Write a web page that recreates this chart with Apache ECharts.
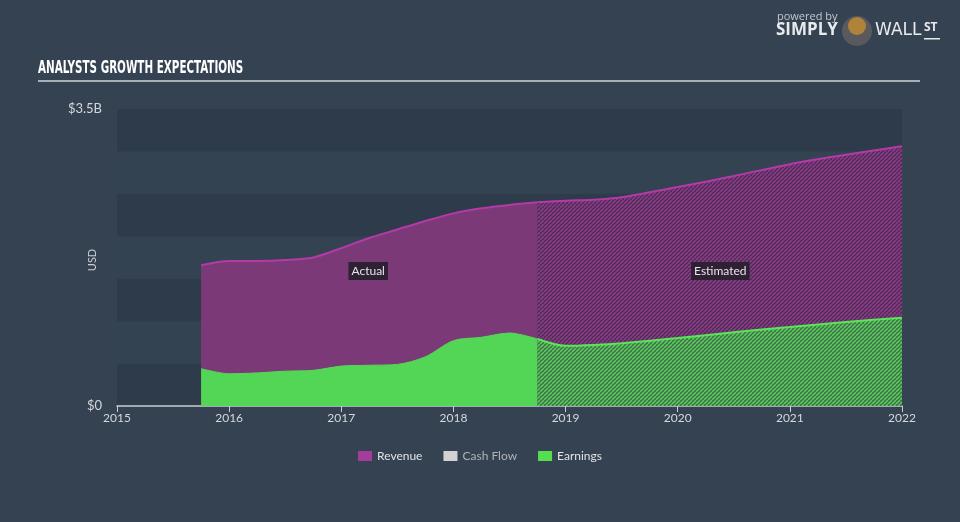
<!DOCTYPE html>
<html>
<head>
<meta charset="utf-8">
<style>
html,body{margin:0;padding:0;background:#344252;}
#chart{width:960px;height:522px;}
</style>
<script src="https://cdn.jsdelivr.net/npm/echarts@6/dist/echarts.min.js"></script>
</head>
<body>
<div id="chart"></div>
<script>
// ---- data ----
var actualYears   = [2015.75, 2016, 2016.25, 2016.5, 2016.75, 2017, 2017.25, 2017.5, 2017.75, 2018, 2018.25, 2018.5, 2018.75];
var revenueActual = [1.66, 1.71, 1.71, 1.72, 1.75, 1.86, 1.98, 2.08, 2.18, 2.27, 2.33, 2.37, 2.40];
var earningsActual= [0.44, 0.38, 0.39, 0.41, 0.42, 0.47, 0.48, 0.49, 0.58, 0.77, 0.81, 0.86, 0.79];
var estYears      = [2018.75, 2019, 2019.25, 2019.5, 2020, 2020.5, 2021, 2021.5, 2022];
var revenueEst    = [2.40, 2.42, 2.43, 2.46, 2.58, 2.71, 2.85, 2.96, 3.06];
var earningsEst   = [0.79, 0.71, 0.72, 0.74, 0.80, 0.87, 0.93, 0.99, 1.04];
var yTickLabels   = {0: '$0', 3.5: '$3.5B'};
var legendNames   = ['Revenue', 'Cash Flow', 'Earnings'];

function pairs(xs, ys){ return xs.map(function(x,i){ return [x, ys[i]]; }); }

function hatch(bg, fg){
  var s = 4;
  var c = document.createElement('canvas');
  c.width = s; c.height = s;
  var ctx = c.getContext('2d');
  ctx.fillStyle = bg; ctx.fillRect(0,0,s,s);
  ctx.strokeStyle = fg; ctx.lineWidth = 1.6;
  ctx.beginPath();
  for (var k=-1;k<=1;k++){ ctx.moveTo(k*s, s); ctx.lineTo(k*s+s, 0); }
  ctx.stroke();
  return c;
}

var chart = echarts.init(document.getElementById('chart'), null, {renderer:'canvas'});
var FONT = 'Lato, "Open Sans", sans-serif';

var option = {
  backgroundColor: '#344252',
  animation: false,
  grid: {left:117, right:58, top:109, bottom:116},
  legend: {
    bottom: 55, left: 'center', itemWidth: 14, itemHeight: 10, itemGap: 21,
    textStyle: {color:'#e2e4e6', fontSize:12, fontFamily:FONT},
    data: [
      {name:legendNames[0], icon:'rect', itemStyle:{color:'#a43c9c'}},
      {name:legendNames[1], icon:'rect', itemStyle:{color:'#d2d2d2'}, textStyle:{color:'#b0b4b8'}},
      {name:legendNames[2], icon:'rect', itemStyle:{color:'#55df50'}}
    ],
    selectedMode: false
  },
  xAxis: {
    type:'value', min:2015, max:2022, interval:1,
    axisLine:{show:true, lineStyle:{color:'#c9ced4', width:1.5}},
    axisTick:{show:true, length:6, lineStyle:{color:'#c9ced4'}},
    axisLabel:{color:'#d5d8dc', fontSize:12, margin:6, fontFamily:FONT,
      formatter:function(v){ return String(v); }},
    splitLine:{show:false}
  },
  yAxis: {
    type:'value', min:0, max:3.5, interval:0.5,
    axisLine:{show:false}, axisTick:{show:false},
    axisLabel:{color:'#d5d8dc', fontSize:13, margin:15, fontFamily:FONT,
      formatter:function(v){ return yTickLabels[v] !== undefined ? yTickLabels[v] : ''; }},
    splitLine:{show:false},
    splitArea:{show:true, areaStyle:{color:['#2e3b4a','#344352']}}
  },
  series: [
    {name:'Revenue', type:'line', smooth:0.3, symbol:'none', z:2,
     data: pairs(actualYears, revenueActual),
     lineStyle:{color:'#b43aa8', width:2},
     itemStyle:{color:'#a43c9c'},
     areaStyle:{color:'#7b3a77', opacity:1}},
    {name:'Revenue Est', type:'line', smooth:0.3, symbol:'none', z:2,
     data: pairs(estYears, revenueEst),
     lineStyle:{color:'#b43aa8', width:2},
     areaStyle:{color:{image:hatch('#4a2d54','#8c3a87'), repeat:'repeat'}, opacity:1}},
    {name:'Cash Flow', type:'line', data:[], itemStyle:{color:'#d2d2d2'}},
    {name:'Earnings', type:'line', smooth:0.3, symbol:'none', z:3,
     data: pairs(actualYears, earningsActual),
     lineStyle:{color:'#55d856', width:1},
     itemStyle:{color:'#55df50'},
     areaStyle:{color:'#53d656', opacity:1}},
    {name:'Earnings Est', type:'line', smooth:0.3, symbol:'none', z:3,
     data: pairs(estYears, earningsEst),
     lineStyle:{color:'#5ae658', width:2},
     areaStyle:{color:{image:hatch('#3b6b4b','#5cc85a'), repeat:'repeat'}, opacity:1}}
  ]
};
chart.setOption(option);

var pA = chart.convertToPixel({gridIndex:0}, [2017.24, 1.59]);
var pE = chart.convertToPixel({gridIndex:0}, [2020.38, 1.59]);
var labelStyle = function(t){ return {text:t, fill:'#e8e2ea', fontSize:12, fontFamily:FONT,
  backgroundColor:'#2e2134', padding:[3,3,3,3], align:'center', verticalAlign:'middle'}; };

chart.setOption({
  graphic: [
    {type:'text', x:38, y:59, scaleX:0.64, scaleY:1, style:{text:'ANALYSTS GROWTH EXPECTATIONS', fill:'#ffffff',
      font:'bold 18px "DejaVu Sans Condensed", "DejaVu Sans", sans-serif'}},
    {type:'rect', shape:{x:38, y:80, width:882, height:2}, style:{fill:'#a7aeb6'}},
    {type:'text', x:92, y:260, rotation:Math.PI/2, style:{text:'USD', fill:'#c9ced4', fontSize:11, fontFamily:FONT,
      align:'center', verticalAlign:'middle'}},
    {type:'text', x:pA[0], y:pA[1], style:labelStyle('Actual'), z:20},
    {type:'text', x:pE[0], y:pE[1], style:labelStyle('Estimated'), z:20},
    // logo
    {type:'text', left:777, top:11, style:{text:'powered by', fill:'#c2c8cf', font:'11px "Open Sans", sans-serif'}},
    {type:'text', left:776, top:22, style:{text:'SIMPLY', fill:'#e8eaec', font:'bold 17px "Open Sans", sans-serif'}},
    {type:'circle', shape:{cx:857, cy:31, r:15}, style:{fill:'#5a5a5e'}},
    {type:'circle', shape:{cx:857, cy:26, r:9}, style:{fill:'#b0823a'}},
    {type:'text', left:875, top:22, style:{text:'WALL', fill:'#e8eaec', font:'17px "DejaVu Sans", sans-serif'}},
    {type:'text', left:924, top:22, style:{text:'ST', fill:'#e8eaec', font:'bold 12px "Open Sans", sans-serif'}},
    {type:'rect', shape:{x:924, y:38, width:16, height:1.5}, style:{fill:'#e8eaec'}}
  ]
});
</script>
</body>
</html>
